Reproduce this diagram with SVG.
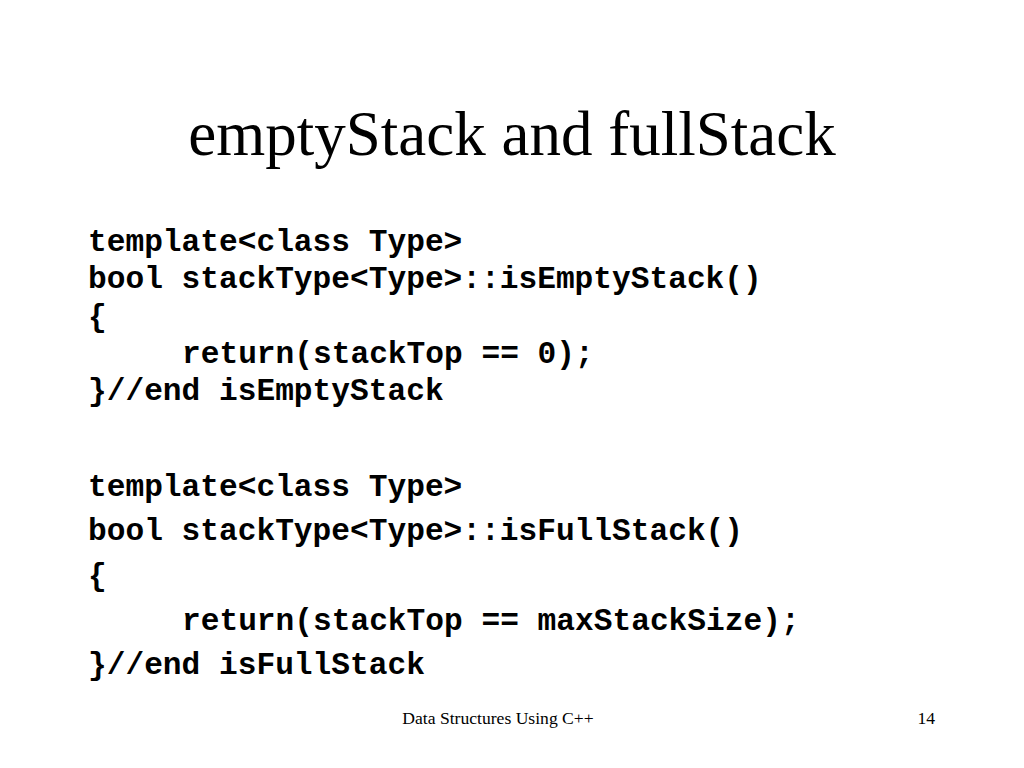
<svg xmlns="http://www.w3.org/2000/svg" width="1024" height="768" viewBox="0 0 1024 768">
<style>
.title{font-family:"Liberation Serif","Times New Roman",serif;font-size:63px;fill:#000}
.code{font-family:"Liberation Mono","Courier New",monospace;font-size:31.2px;font-weight:bold;fill:#000;white-space:pre}
.foot{font-family:"Liberation Serif","Times New Roman",serif;font-size:17.6px;fill:#000}
</style>
<rect width="1024" height="768" fill="#fff"/>
<text class="title" x="512" y="155" text-anchor="middle">emptyStack and fullStack</text>
<g id="block1">
<text class="code" x="88" y="251">template&lt;class Type&gt;</text>
<text class="code" x="88" y="288">bool stackType&lt;Type&gt;::isEmptyStack()</text>
<text class="code" x="88" y="326">{</text>
<text class="code" x="182" y="363">return(stackTop == 0);</text>
<text class="code" x="88" y="400">}//end isEmptyStack</text>
</g>
<g id="block2">
<text class="code" x="88" y="496">template&lt;class Type&gt;</text>
<text class="code" x="88" y="540">bool stackType&lt;Type&gt;::isFullStack()</text>
<text class="code" x="88" y="585">{</text>
<text class="code" x="182" y="630">return(stackTop == maxStackSize);</text>
<text class="code" x="88" y="674">}//end isFullStack</text>
</g>
<text class="foot" x="498" y="724" text-anchor="middle">Data Structures Using C++</text>
<text class="foot" x="935" y="724" text-anchor="end">14</text>
</svg>
